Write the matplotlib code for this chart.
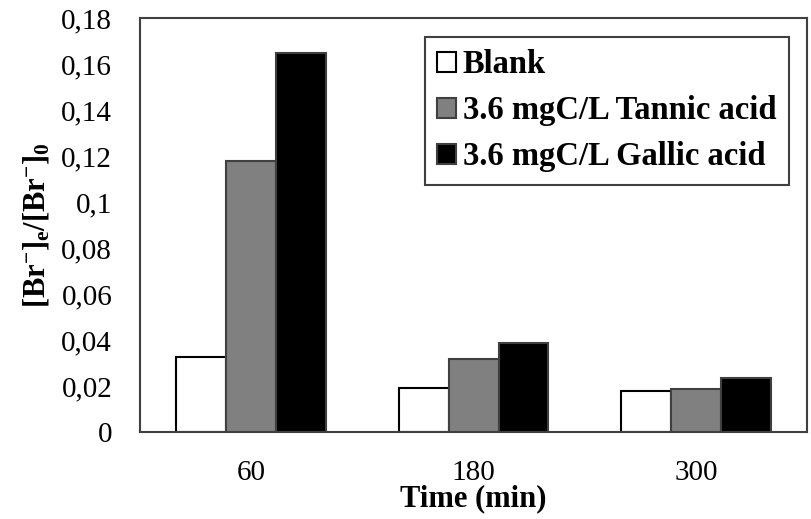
import numpy as np
import matplotlib
matplotlib.use("Agg")
import matplotlib.pyplot as plt
from matplotlib.ticker import FuncFormatter, MultipleLocator

plt.rcParams['font.family'] = 'Liberation Serif'
plt.rcParams['mathtext.fontset'] = 'custom'
plt.rcParams['mathtext.rm'] = 'Liberation Serif'
plt.rcParams['mathtext.bf'] = 'Liberation Serif:bold'

# data
times   = ['60', '180', '300']
blank   = [0.0326, 0.0191, 0.0178]
tannic  = [0.118, 0.0317, 0.0187]
gallic  = [0.165, 0.0387, 0.0235]
labels  = ['Blank', '3.6 mgC/L Tannic acid', '3.6 mgC/L Gallic acid']

fig = plt.figure(figsize=(8.11, 5.19), dpi=100)
ax = fig.add_axes([0.1726, 0.1676, 0.8228, 0.7977])

x = np.arange(len(times))
w = 0.224
ax.bar(x - w, blank, w, color='white', edgecolor='black', linewidth=1.5, label=labels[0])
ax.bar(x, tannic, w, color='#808080', edgecolor='#404040', linewidth=1.5, label=labels[1])
ax.bar(x + w, gallic, w, color='black', edgecolor='#404040', linewidth=1.5, label=labels[2])

ax.set_xlim(-0.5, 2.5)
ax.set_ylim(0, 0.18)
ax.yaxis.set_major_locator(MultipleLocator(0.02))
ax.yaxis.set_major_formatter(FuncFormatter(lambda v, p: ('%g' % round(v, 2)).replace('.', ',')))
ax.set_xticks(x)
ax.set_xticklabels(times)
ax.tick_params(axis='both', length=0, labelsize=21)
ax.tick_params(axis='y', pad=20)
ax.tick_params(axis='x', pad=20)

for s in ax.spines.values():
    s.set_color('#404040')
    s.set_linewidth(1.5)

ax.set_xlabel('Time (min)', fontsize=22, fontweight='bold', labelpad=-1)
ax.set_ylabel(r'$\mathbf{[Br^{-}]_{e}/[Br^{-}]_{0}}$', fontsize=22, labelpad=7)

leg = ax.legend(loc='upper right', bbox_to_anchor=(0.972, 0.954), borderaxespad=0,
                prop={'weight': 'bold', 'size': 23.5}, handlelength=0.58, handleheight=0.58,
                handletextpad=0.2, fancybox=False, framealpha=1, edgecolor='#404040',
                borderpad=0.38, labelspacing=0.46)
leg.get_frame().set_linewidth(1.5)

fig.savefig('out.png', dpi=100)
